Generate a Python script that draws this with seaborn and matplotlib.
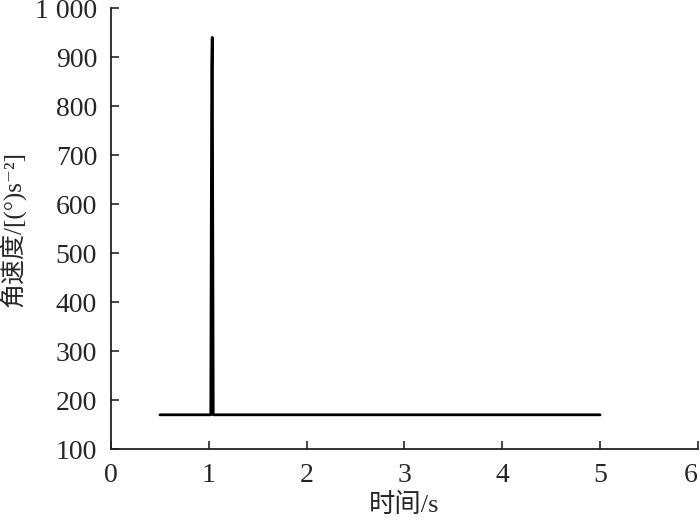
import matplotlib
matplotlib.use("Agg")
import pandas as pd
import matplotlib.pyplot as plt
import seaborn as sns

# readings
time_s = [0.5, 1.02, 1.025, 1.03, 1.035, 1.045, 5.0]
ang_acc = [170, 170, 545, 880, 940, 170, 170]
x_ticks = [0, 1, 2, 3, 4, 5, 6]
y_ticks = [100, 200, 300, 400, 500, 600, 700, 800, 900, 1000]
y_labels = ["100", "200", "300", "400", "500", "600", "700", "800", "900", "1 000"]

df = pd.DataFrame({"t": time_s, "a": ang_acc})

sns.set_style("ticks")
plt.rcParams['font.family'] = ['Liberation Serif', 'Noto Sans CJK SC', 'DejaVu Serif']

fig = plt.figure(figsize=(7, 5.21), dpi=100)
ax = fig.add_axes([0.1586, 0.138, 0.8384, 0.8466])
sns.lineplot(data=df, x="t", y="a", ax=ax, color="black", linewidth=2.0,
             sort=False, estimator=None)

ax.set_xlim(0, 6)
ax.set_ylim(100, 1000)
ax.set_xticks(x_ticks)
ax.set_yticks(y_ticks)
ax.set_yticklabels(y_labels)
ax.tick_params(direction="in", length=6, width=1.2, labelsize=20, pad=10)
ax.get_xticklabels()[-1].set_horizontalalignment("right")
for s in ["top", "right"]:
    ax.spines[s].set_visible(False)
for s in ["left", "bottom"]:
    ax.spines[s].set_linewidth(1.3)
    ax.spines[s].set_color("#222222")

ax.set_xlabel("时间/s", fontsize=19)
ax.xaxis.set_label_coords(0.5, -0.1)
ax.set_ylabel("角速度/[(°)s⁻²]", fontsize=18)
ax.yaxis.set_label_coords(-0.145, 0.5)

fig.savefig("out.png", dpi=100)
